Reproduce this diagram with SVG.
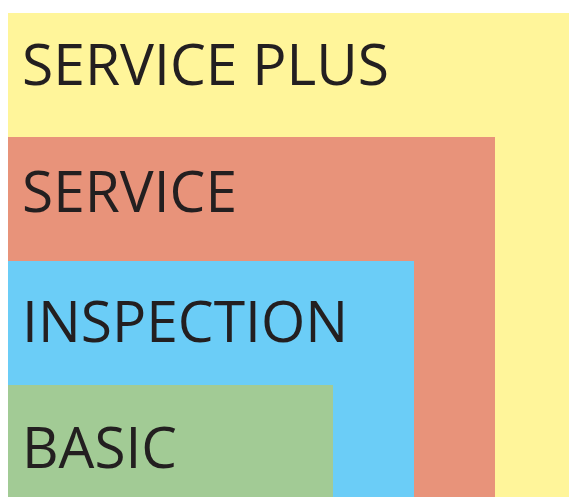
<svg xmlns="http://www.w3.org/2000/svg" width="569" height="497" viewBox="0 0 569 497">
<style>
.t{font-family:"Open Sans","Liberation Sans",sans-serif;font-size:56px;fill:#231F20;}
</style>
<rect width="569" height="497" fill="#ffffff"/>
<g id="service-plus"><rect x="8" y="13" width="561" height="484" fill="#FFF59A"/><text class="t" x="22" y="85" textLength="367" lengthAdjust="spacingAndGlyphs">SERVICE PLUS</text></g>
<g id="service"><rect x="8" y="137" width="487" height="360" fill="#E8937A"/><text class="t" x="22" y="212" textLength="215" lengthAdjust="spacingAndGlyphs">SERVICE</text></g>
<g id="inspection"><rect x="8" y="261" width="406" height="236" fill="#6BCDF7"/><text class="t" x="22" y="342" textLength="326" lengthAdjust="spacingAndGlyphs">INSPECTION</text></g>
<g id="basic"><rect x="8" y="385" width="325" height="112" fill="#A2CB95"/><text class="t" x="22" y="468" textLength="155" lengthAdjust="spacingAndGlyphs">BASIC</text></g>
<g id="connectors"/>
</svg>
